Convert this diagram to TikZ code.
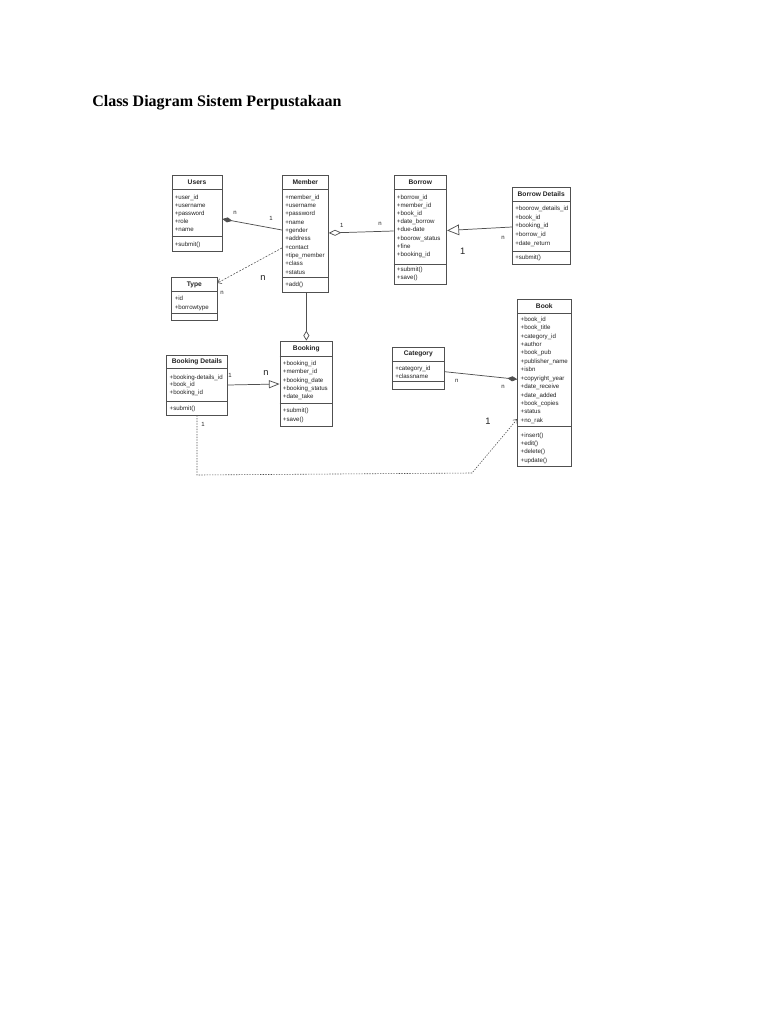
\documentclass[tikz,border=0pt]{standalone}
\usepackage{fontspec}
\setmainfont{Liberation Serif}
\setsansfont{Liberation Sans}
\usetikzlibrary{arrows.meta,fit}
\definecolor{linec}{HTML}{505050}
\definecolor{txt}{HTML}{222222}
\newcommand{\attrfont}[1]{\sffamily\fontsize{4.6}{#1}\selectfont\lineskiplimit=-20pt\lineskip=0pt}
\tikzset{
  cls/.style={draw=linec, line width=0.6pt, inner sep=0pt},
  ttl/.style={font={\sffamily\bfseries\fontsize{5}{6}\selectfont}, text=txt, inner sep=0pt},
  attr/.style={font={\attrfont{6.2}}, text=txt, inner sep=0pt, anchor=north west, align=left},
  div/.style={draw=linec, line width=0.5pt},
  conn/.style={draw=linec, line width=0.55pt},
  lbl/.style={font={\sffamily\fontsize{4.5}{5}\selectfont}, text=txt, inner sep=0pt},
  biglbl/.style={font={\sffamily\fontsize{7}{8}\selectfont}, text=txt, inner sep=0pt},
}
\begin{document}
\begin{tikzpicture}[x=0.75pt,y=-0.75pt]
\fill[white] (0,0) rectangle (768,1024);
\useasboundingbox (0,0) rectangle (768,1024);

\node[anchor=base west, inner sep=0pt, font={\rmfamily\bfseries\fontsize{12}{14}\selectfont}, text=black] (title) at (92,107) {Class Diagram Sistem Perpustakaan};

% Users
\node[cls, fit={(172,175) (222,251)}] (users) {};
\draw[div] (users.west |- 0,189) -- (users.east |- 0,189);
\draw[div] (users.west |- 0,236) -- (users.east |- 0,236);
\node[ttl] (usersT) at (197,182) {Users};
\node[attr, font={\attrfont{6.08}}] (usersA) at (174.5,194.3) {+user\_id\\+username\\+password\\+role\\+name};
\node[attr] (usersM) at (174.5,241.6) {+submit()};

% Member
\node[cls, fit={(282.3,175) (328.3,292.7)}] (member) {};
\draw[div] (member.west |- 0,189) -- (member.east |- 0,189);
\draw[div] (member.west |- 0,277.3) -- (member.east |- 0,277.3);
\node[ttl] (memberT) at (305.3,182) {Member};
\node[attr, font={\attrfont{6.25}}] (memberA) at (285,194.3) {+member\_id\\+username\\+password\\+name\\+gender\\+address\\+contact\\+tipe\_member\\+class\\+status};
\node[attr] (memberM) at (285,282.1) {+add()};

% Borrow
\node[cls, fit={(394,175) (446.7,284)}] (borrow) {};
\draw[div] (borrow.west |- 0,189) -- (borrow.east |- 0,189);
\draw[div] (borrow.west |- 0,264.3) -- (borrow.east |- 0,264.3);
\node[ttl] (borrowT) at (420.3,182) {Borrow};
\node[attr, font={\attrfont{6.17}}] (borrowA) at (396.7,194.3) {+borrow\_id\\+member\_id\\+book\_id\\+date\_borrow\\+due-date\\+boorow\_status\\+fine\\+booking\_id};
\node[attr, font={\attrfont{6}}] (borrowM) at (396.7,266.9) {+submit()\\+save()};

% Borrow Details
\node[cls, fit={(512.3,187.3) (570,264)}] (bdet) {};
\draw[div] (bdet.west |- 0,201) -- (bdet.east |- 0,201);
\draw[div] (bdet.west |- 0,251) -- (bdet.east |- 0,251);
\node[ttl] (bdetT) at (541.2,194.2) {Borrow Details};
\node[attr, font={\attrfont{6.45}}] (bdetA) at (515,205.9) {+boorow\_details\_id\\+book\_id\\+booking\_id\\+borrow\_id\\+date\_return};
\node[attr] (bdetM) at (515,254.6) {+submit()};

% Type
\node[cls, fit={(171.7,277.3) (217,320.7)}] (type) {};
\draw[div] (type.west |- 0,291.7) -- (type.east |- 0,291.7);
\draw[div] (type.west |- 0,313) -- (type.east |- 0,313);
\node[ttl] (typeT) at (194.3,284.5) {Type};
\node[attr, font={\attrfont{6.75}}] (typeA) at (174.5,295.6) {+id\\+borrowtype};

% Booking
\node[cls, fit={(280,341) (332.7,426)}] (booking) {};
\draw[div] (booking.west |- 0,356) -- (booking.east |- 0,356);
\draw[div] (booking.west |- 0,403) -- (booking.east |- 0,403);
\node[ttl] (bookingT) at (306.3,348.5) {Booking};
\node[attr, font={\attrfont{6.19}}] (bookingA) at (282.7,360.9) {+booking\_id\\+member\_id\\+booking\_date\\+booking\_status\\+date\_take};
\node[attr, font={\attrfont{6.3}}] (bookingM) at (282.7,407.9) {+submit()\\+save()};

% Booking Details
\node[cls, fit={(166.7,355) (227.3,415)}] (bkd) {};
\draw[div] (bkd.west |- 0,368.3) -- (bkd.east |- 0,368.3);
\draw[div] (bkd.west |- 0,401) -- (bkd.east |- 0,401);
\node[ttl] (bkdT) at (197,361.7) {Booking Details};
\node[attr, font={\attrfont{5.85}}] (bkdA) at (169.4,374.3) {+booking-details\_id\\+book\_id\\+booking\_id};
\node[attr] (bkdM) at (169.4,405.3) {+submit()};

% Category
\node[cls, fit={(392.3,347.3) (444.3,389.3)}] (category) {};
\draw[div] (category.west |- 0,361) -- (category.east |- 0,361);
\draw[div] (category.west |- 0,381.7) -- (category.east |- 0,381.7);
\node[ttl] (categoryT) at (418.3,354.2) {Category};
\node[attr, font={\attrfont{5.8}}] (categoryA) at (395,365.9) {+category\_id\\+classname};

% Book
\node[cls, fit={(517.7,299) (571,466)}] (book) {};
\draw[div] (book.west |- 0,313.3) -- (book.east |- 0,313.3);
\draw[div] (book.west |- 0,426) -- (book.east |- 0,426);
\node[ttl] (bookT) at (544.3,306.2) {Book};
\node[attr, font={\attrfont{6.31}}] (bookA) at (520.4,316.6) {+book\_id\\+book\_title\\+category\_id\\+author\\+book\_pub\\+publisher\_name\\+isbn\\+copyright\_year\\+date\_receive\\+date\_added\\+book\_copies\\+status\\+no\_rak};
\node[attr, font={\attrfont{6.25}}] (bookM) at (520.4,432.6) {+insert()\\+edit()\\+delete()\\+update()};

% Connectors
\draw[conn, {Diamond[length=7.5pt,width=3.8pt,fill=linec]}-] (users.east |- 0,219) -- (member.west |- 0,230);
\node[lbl] (l1) at (235,213) {n};
\node[lbl] (l2) at (271,218) {1};

\draw[conn, line width=0.45pt, dash pattern=on 1.4pt off 1.1pt, -{Straight Barb[length=2.5pt,width=4pt]}] (member.west |- 0,248) -- (type.east |- 0,283);
\node[biglbl] (l3) at (263,278) {n};
\node[lbl] (l4) at (222,293) {n};

\draw[conn, {Diamond[open,length=9.5pt,width=4.5pt]}-] (member.east |- 0,233) -- (borrow.west |- 0,231);
\node[lbl] (l5) at (341.7,225.7) {1};
\node[lbl] (l6) at (380,224.3) {n};

\draw[conn, -{Triangle[open,length=9pt,width=8pt]}] (bdet.west |- 0,227) -- (borrow.east |- 0,230.5);
\node[lbl] (l7) at (503,238.3) {n};
\node[biglbl] (l8) at (462.7,251) {1};

\draw[conn, -{Diamond[open,length=7.5pt,width=4.5pt]}] (booking.north |- member.south) -- (booking.north);

\draw[conn, -{Triangle[open,length=8pt,width=6pt]}] (bkd.east |- 0,385) -- (booking.west |- 0,384);
\node[lbl] (l9) at (230,375) {1};
\node[biglbl] (l10) at (266,372.7) {n};

\draw[conn, -{Diamond[length=7.5pt,width=3.8pt,fill=linec]}] (category.east |- 0,371.7) -- (book.west |- 0,379.3);
\node[lbl] (l11) at (456.7,380.7) {n};
\node[lbl] (l12) at (503,386.7) {n};

\coordinate (bend) at (472,473);
\draw[conn, line width=0.45pt, dash pattern=on 1pt off 1pt, -{Straight Barb[length=2.5pt,width=4pt]}] (bkd.south) -- (bkd.south |- 0,475) -- (bend) -- (book.west |- 0,419);
\node[lbl] (l13) at (203,424) {1};
\node[biglbl] (l14) at (488,421) {1};
\end{tikzpicture}
\end{document}
